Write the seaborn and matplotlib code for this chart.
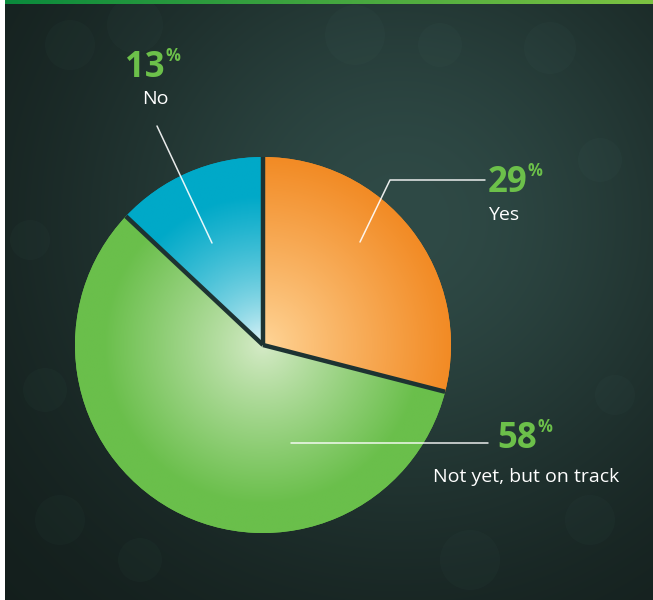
import numpy as np
import matplotlib
matplotlib.use('Agg')
import matplotlib.pyplot as plt
import seaborn as sns
from matplotlib.patches import Circle, Rectangle

# === Data ===
labels = ['Yes', 'Not yet, but on track', 'No']
shares = [29, 58, 13]
edge_colors = ['#f28b25', '#6abf4b', '#00a9c8']
center_colors = ['#ffd699', '#d6ebc8', '#ffffff']
grad_power = [0.9, 0.9, 0.6]
grad_reach = [1.0, 0.85, 0.8]

# label layout (pixel coords): number right edge, number baseline, label centre, label baseline
num_pos = [(527, 192), (537, 448), (165, 77)]
lab_pos = [(504, 220), (526, 482), (155, 104)]
leaders = [([360, 390, 485], [242, 180, 180]),
           ([291, 488], [443, 443]),
           ([157, 212], [126, 243])]

W, H = 653, 600
cx, cy, R = 263, 345, 188

sns.set_theme(style='white')
plt.rcParams['font.family'] = ['Open Sans', 'DejaVu Sans']

fig = plt.figure(figsize=(W / 100, H / 100), dpi=100)
ax = fig.add_axes([0, 0, 1, 1])

# === Background ===
yy, xx = np.mgrid[0:H, 0:W]
blob = np.exp(-(((xx - 400) / 330) ** 2 + ((yy - 220) / 320) ** 2))
dark = np.array([0x12, 0x1c, 0x1a]) / 255
light = np.array([0x2f, 0x4a, 0x46]) / 255
bg = dark + (light - dark) * blob[..., None]
ax.imshow(bg, extent=(0, W, H, 0), zorder=0)

for x, y, r in [(70, 45, 25), (135, 25, 28), (355, 35, 30), (440, 45, 22), (550, 48, 26),
                (600, 160, 22), (615, 395, 20), (45, 390, 22), (60, 520, 25), (140, 560, 22),
                (470, 560, 30), (590, 520, 25), (30, 240, 20)]:
    ax.add_patch(Circle((x, y), r, color='#6a9a90', alpha=0.035, lw=0, zorder=1))

# === Pie ===
wedges, _ = ax.pie(shares, startangle=-90, counterclock=True, center=(cx, cy),
                   radius=R, colors=edge_colors, wedgeprops=dict(linewidth=0))

gy, gx = np.mgrid[-R:R:400j, -R:R:400j]
dist = np.sqrt(gx ** 2 + gy ** 2) / R
for w, c0, c1, p, reach in zip(wedges, center_colors, edge_colors, grad_power, grad_reach):
    cmap = sns.blend_palette([c0, c1], n_colors=256, as_cmap=True)
    t = np.clip(dist / reach, 0, 1) ** p
    im = ax.imshow(cmap(t), extent=(cx - R, cx + R, cy + R, cy - R), zorder=2)
    im.set_clip_path(w)

bounds = -90 + 360 * np.concatenate([[0], np.cumsum(shares)[:-1]]) / sum(shares)
for a in np.radians(bounds):
    ax.plot([cx, cx + R * np.cos(a)], [cy, cy + R * np.sin(a)], color='#1d3332',
            lw=3.2, solid_capstyle='butt', zorder=3)

# === Labels ===
for v, lab, (nx, ny), (lx, ly), (lxs, lys) in zip(shares, labels, num_pos, lab_pos, leaders):
    ax.text(nx, ny, str(v), ha='right', va='baseline', fontsize=25, fontweight='bold',
            color='#6cc04a', zorder=5)
    ax.text(nx + 1, ny - 30, '%', ha='left', va='top', fontsize=12, fontweight='bold',
            color='#6cc04a', zorder=5)
    ax.text(lx, ly, lab, ha='center', va='baseline', fontsize=14, color='white', zorder=5)
    ax.plot(lxs, lys, color='white', lw=1.1, alpha=0.9, zorder=4)

# === Frame decorations ===
bar = sns.blend_palette(['#0a8a3c', '#7cc242'], n_colors=256)
ax.imshow(np.array(bar)[None, :, :], extent=(5, W, 4, 0), aspect='auto', zorder=6)
ax.add_patch(Rectangle((0, 0), 5, H, color='white', lw=0, zorder=6))

ax.set_xlim(0, W)
ax.set_ylim(H, 0)
ax.set_aspect('auto')
ax.axis('off')

plt.savefig('out.png', dpi=100)
